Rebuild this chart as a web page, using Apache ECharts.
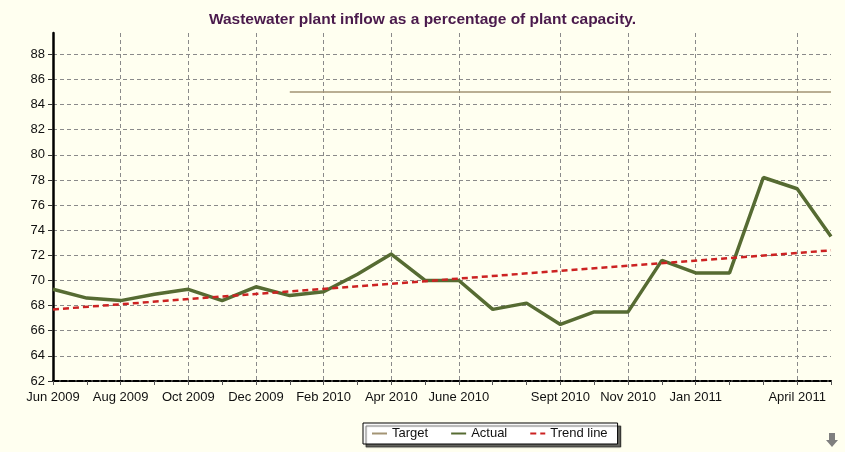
<!DOCTYPE html>
<html>
<head>
<meta charset="utf-8">
<script src="https://cdn.jsdelivr.net/npm/echarts@6/dist/echarts.min.js"></script>
<style>
html,body{margin:0;padding:0;background:#fffff0;}
#chart{width:845px;height:452px;}
</style>
</head>
<body>
<div id="chart"></div>
<script>
const months = ["Jun 2009","Jul 2009","Aug 2009","Sep 2009","Oct 2009","Nov 2009","Dec 2009",
  "Jan 2010","Feb 2010","Mar 2010","Apr 2010","May 2010","June 2010","Jul 2010","Aug 2010",
  "Sept 2010","Oct 2010","Nov 2010","Dec 2010","Jan 2011","Feb 2011","Mar 2011","April 2011","May 2011"];
const tickLabels = ["Jun 2009","Aug 2009","Oct 2009","Dec 2009","Feb 2010","Apr 2010","June 2010",
  "Sept 2010","Nov 2010","Jan 2011","April 2011"];
const yTicks = [62,64,66,68,70,72,74,76,78,80,82,84,86,88];
const actual = [69.3,68.6,68.4,68.9,69.3,68.4,69.5,68.8,69.1,70.5,72.1,70.0,70.0,67.7,68.2,66.5,67.5,67.5,71.6,70.6,70.6,78.2,77.3,73.5];
const target = [null,null,null,null,null,null,null,85,85,85,85,85,85,85,85,85,85,85,85,85,85,85,85,85];
const trend = [67.7,null,null,null,null,null,null,null,null,null,null,null,null,null,null,null,null,null,null,null,null,null,null,72.4];

const chart = echarts.init(document.getElementById('chart'));
const showTick = (idx, val) => tickLabels.indexOf(months[idx]) >= 0;
chart.setOption({
  backgroundColor: '#fffff0',
  animation: false,
  title: {
    text: 'Wastewater plant inflow as a percentage of plant capacity.',
    left: 'center', top: 7,
    textStyle: {fontFamily: 'Liberation Sans, Arial', fontSize: 15.5, fontWeight: 'bold', color: '#4a1a4c'}
  },
  grid: {left: 53, right: 14, top: 33, bottom: 71, containLabel: false},
  legend: {
    left: 363, top: 423,
    data: ['Target','Actual','Trend line'],
    backgroundColor: '#ffffff', borderColor: '#000', borderWidth: 1,
    padding: [4, 10, 4, 8], itemGap: 22, itemWidth: 15, itemHeight: 8,
    itemStyle: {opacity: 0},
    shadowColor: 'rgba(0,0,0,0.6)', shadowOffsetX: 3, shadowOffsetY: 3, shadowBlur: 1,
    textStyle: {fontFamily: 'Liberation Sans, Arial', fontSize: 13, color: '#111'}
  },
  xAxis: {
    type: 'category', data: months, boundaryGap: false,
    axisLine: {lineStyle: {color: '#000', width: 2, type: [6,2]}},
    axisTick: {show: true, interval: 0, length: 4, lineStyle: {color: '#555'}},
    axisLabel: {interval: showTick, margin: 10, fontFamily: 'Liberation Sans, Arial', fontSize: 13, color: '#111'},
    splitLine: {show: true, interval: showTick, lineStyle: {color: '#8a8a8a', type: [4,3], width: 1}}
  },
  yAxis: {
    type: 'value', min: 62, max: 89.7, interval: 2,
    axisLine: {show: true, lineStyle: {color: '#000', width: 2.5}},
    axisTick: {show: true, length: 5, lineStyle: {color: '#333'}},
    axisLabel: {showMaxLabel: false, margin: 8, fontFamily: 'Liberation Sans, Arial', fontSize: 13, color: '#111',
      formatter: v => (yTicks.indexOf(v) >= 0 ? String(v) : '')},
    splitLine: {show: true, showMaxLine: false, lineStyle: {color: '#8a8a8a', type: [4,3], width: 1}}
  },
  series: [
    {name: 'Target', type: 'line', data: target, symbol: 'none',
      lineStyle: {color: '#a39474', width: 1.5}, itemStyle: {color: '#a39474'}},
    {name: 'Actual', type: 'line', data: actual, symbol: 'none',
      lineStyle: {color: '#566b32', width: 3.5}, itemStyle: {color: '#566b32'}},
    {name: 'Trend line', type: 'line', data: trend, symbol: 'none', connectNulls: true,
      lineStyle: {color: '#cc2222', width: 2.5, type: [6,4]}, itemStyle: {color: '#cc2222'}}
  ],
  graphic: [{
    type: 'polygon', left: 826, top: 433,
    shape: {points: [[3,0],[9,0],[9,7],[12,7],[6,14],[0,7],[3,7]]},
    style: {fill: '#7f7f7f'}
  }]
});
</script>
</body>
</html>
